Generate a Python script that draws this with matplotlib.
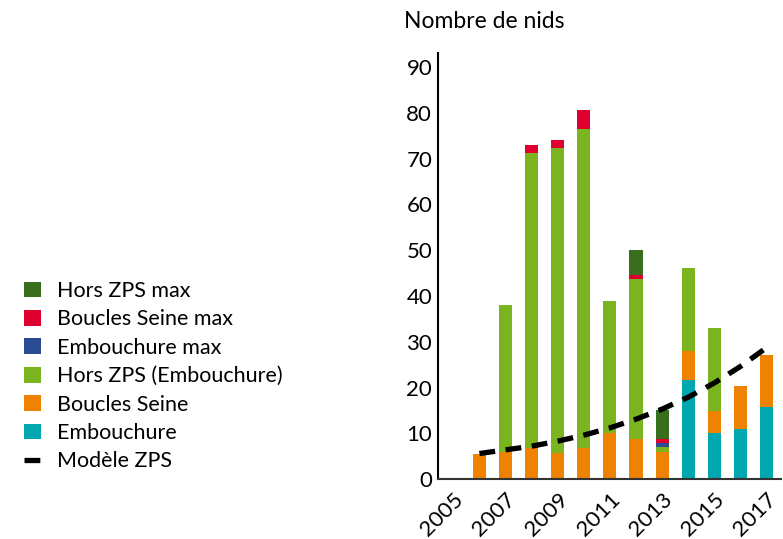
import numpy as np
import matplotlib.pyplot as plt

plt.rcParams['font.family'] = ['Lato', 'DejaVu Sans']

years = [2006, 2007, 2008, 2009, 2010, 2011, 2012, 2013, 2014, 2015, 2016, 2017]
embouchure = [0, 0, 0, 0, 0, 0, 0, 0, 21.7, 10.0, 11.0, 15.8]
boucles_seine = [5.5, 6.0, 6.8, 5.8, 6.9, 10.0, 8.7, 6.0, 6.2, 4.8, 9.4, 11.3]
hors_zps = [0, 32.0, 64.4, 66.5, 69.5, 28.9, 35.0, 1.0, 18.2, 18.2, 0, 0]
embouchure_max = [0, 0, 0, 0, 0, 0, 0, 0.9, 0, 0, 0, 0]
boucles_max = [0, 0, 1.8, 1.7, 4.2, 0, 0.9, 0.9, 0, 0, 0, 0]
hors_max = [0, 0, 0, 0, 0, 0, 5.4, 6.4, 0, 0, 0, 0]
modele = [5.6, 6.4, 7.2, 8.3, 9.6, 11.2, 13.1, 15.3, 17.9, 21.0, 24.6, 28.7]
xticks = [2005, 2007, 2009, 2011, 2013, 2015, 2017]

series = [
    ("Embouchure", embouchure, "#00a7ae"),
    ("Boucles Seine", boucles_seine, "#ef8200"),
    ("Hors ZPS (Embouchure)", hors_zps, "#7ab51f"),
    ("Embouchure max", embouchure_max, "#2a4c95"),
    ("Boucles Seine max", boucles_max, "#e0002f"),
    ("Hors ZPS max", hors_max, "#386e1e"),
]

fig = plt.figure(figsize=(7.83, 5.39), dpi=100)
ax = fig.add_axes([0.559, 0.111, 0.4385, 0.791])

bottom = np.zeros(len(years))
handles = []
for name, vals, col in series:
    b = ax.bar(years, vals, width=0.5, bottom=bottom, color=col, label=name)
    bottom += np.array(vals)
    handles.append(b)

line, = ax.plot(years, modele, color="black", linewidth=3.8, dashes=(3.0, 2.0),
                label="Modèle ZPS")

ax.set_xlim(2004.4, 2017.56)
ax.set_ylim(0, 93.1)
ax.set_yticks(range(0, 91, 10))
ax.set_xticks(xticks)
ax.set_xticklabels([str(x) for x in xticks], rotation=45, ha="right",
                   rotation_mode="anchor")
ax.tick_params(axis="both", length=0, labelsize=16, pad=4)
ax.tick_params(axis="x", pad=7)
for s in ["top", "right"]:
    ax.spines[s].set_visible(False)
ax.spines["left"].set_linewidth(1.5)
ax.spines["bottom"].set_linewidth(1.5)
ax.spines["bottom"].set_color("#333333")

fig.text(404 / 783, 1 - 22 / 539, "Nombre de nids", fontsize=16.5, va="center", ha="left")

leg_handles = handles[::-1] + [line]
fig.legend(leg_handles, [h.get_label() for h in leg_handles],
           loc="upper left", bbox_to_anchor=(0.012, 1 - 266 / 539),
           frameon=False, fontsize=15.5, handlelength=0.75, handleheight=0.75,
           handletextpad=0.75, labelspacing=0.39, borderpad=0.2)

fig.savefig("out.png", dpi=100)
